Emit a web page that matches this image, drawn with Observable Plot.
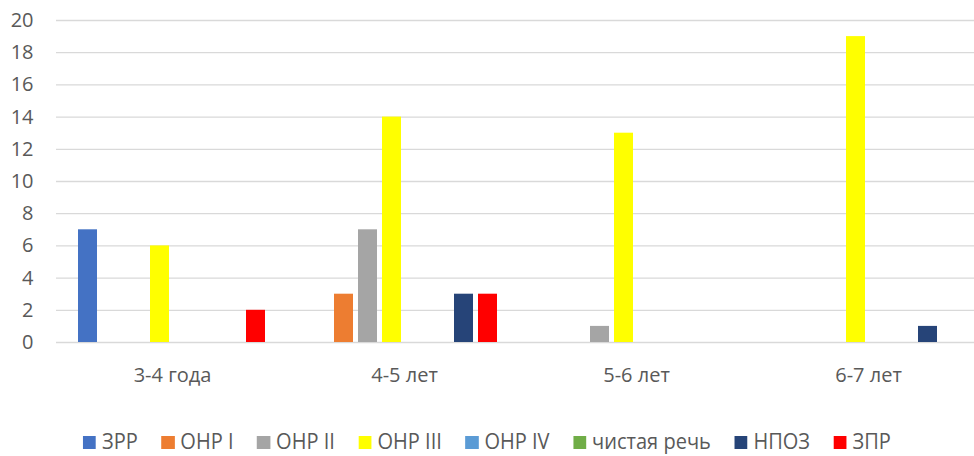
<!DOCTYPE html>
<html>
<head>
<meta charset="utf-8">
<script src="https://cdn.jsdelivr.net/npm/d3@7"></script>
<script src="https://cdn.jsdelivr.net/npm/@observablehq/plot@0.6"></script>
<style>
  html, body { margin: 0; padding: 0; background: #fff; }
  body { position: relative; width: 974px; height: 456px; overflow: hidden; }
  #chart { width: 974px; font-family: "Open Sans", sans-serif; }
  #legend { position: absolute; left: 0; top: 428px; width: 974px; height: 24px;
            display: flex; justify-content: center; align-items: center;
            font-family: "Open Sans", sans-serif; font-size: 22px; line-height: 24px;
            color: #595959; transform: scaleX(0.91); transform-origin: 487px 0; white-space: nowrap; }
  .item { display: inline-flex; align-items: center; margin: 0 13px; }
  .sw { width: 14.3px; height: 13px; margin-right: 6.5px; display: inline-block; position: relative; top: 2px; }
</style>
</head>
<body>
<div id="chart"></div>
<script>
const groups = ["3-4 года", "4-5 лет", "5-6 лет", "6-7 лет"];
const series = ["ЗРР", "ОНР I", "ОНР II", "ОНР III", "ОНР IV", "чистая речь", "НПОЗ", "ЗПР"];
const colors = ["#4472C4", "#ED7D31", "#A5A5A5", "#FFFF00", "#5B9BD5", "#70AD47", "#264478", "#FF0000"];
const values34 = [7, 0, 0, 6, 0, 0, 0, 2];
const values45 = [0, 3, 7, 14, 0, 0, 3, 3];
const values56 = [0, 0, 1, 13, 0, 0, 0, 0];
const values67 = [0, 0, 0, 19, 0, 0, 1, 0];
const yTicks = [0, 2, 4, 6, 8, 10, 12, 14, 16, 18, 20];

const allValues = [values34, values45, values56, values67];
const data = [];
groups.forEach((g, gi) => series.forEach((s, si) => {
  const v = allValues[gi][si];
  if (v > 0) data.push({group: g, series: s, value: v});
}));

const plot = Plot.plot({
  width: 974,
  height: 400,
  marginLeft: 55,
  marginRight: 0,
  marginTop: 20,
  marginBottom: 58,
  style: {fontFamily: "Open Sans, sans-serif", color: "#595959", background: "#fff"},
  fx: {domain: groups, range: [55.5, 983.5], padding: 0, label: null},
  x: {domain: series, range: [73.4, 268.6], paddingInner: 0.2, paddingOuter: 0.1, axis: null},
  y: {domain: [0, 20], label: null},
  color: {domain: series, range: colors},
  marks: [
    Plot.gridY(yTicks, {stroke: "#d9d9d9", strokeOpacity: 1, strokeWidth: 1.3}),
    Plot.barY(data, {fx: "group", x: "series", y: "value", fill: "series"}),
    Plot.axisY(yTicks, {tickSize: 0, tickPadding: 23, fontSize: 20, fill: "#595959", label: null}),
    Plot.axisFx({anchor: "bottom", tickSize: 0, tickPadding: 25, fontSize: 20, fill: "#595959", label: null})
  ]
});
document.getElementById("chart").appendChild(plot);

const legend = document.createElement("div");
legend.id = "legend";
series.forEach((s, i) => {
  const item = document.createElement("span");
  item.className = "item";
  const sw = document.createElement("span");
  sw.className = "sw";
  sw.style.background = colors[i];
  item.appendChild(sw);
  item.appendChild(document.createTextNode(s));
  legend.appendChild(item);
});
document.body.appendChild(legend);
</script>
</body>
</html>
